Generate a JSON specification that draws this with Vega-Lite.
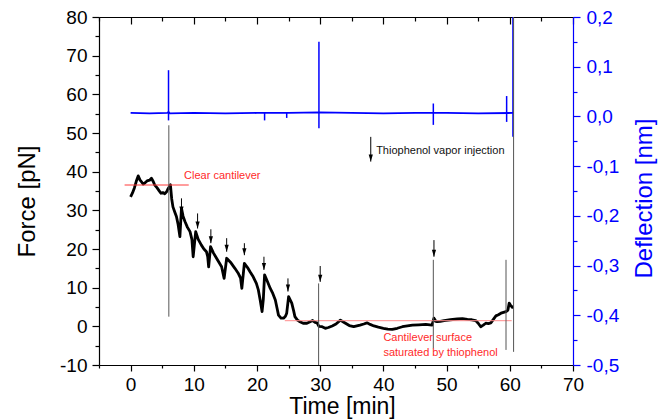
{
  "$schema": "https://vega.github.io/schema/vega-lite/v6.json",
  "width": 474,
  "height": 348,
  "autosize": {"type": "none"},
  "padding": {"left": 99, "top": 17, "right": 85, "bottom": 54},
  "background": "white",
  "config": {
    "view": {"stroke": null},
    "font": "Liberation Sans",
    "axis": {"grid": false, "labelFont": "Liberation Sans", "titleFont": "Liberation Sans", "titleFontWeight": "normal", "labelOverlap": false, "labelBound": false, "labelFlush": false}
  },
  "datasets": {
    "force": [
      {"t": 0.0, "f": 33.5}, {"t": 0.3, "f": 34.5}, {"t": 0.6, "f": 35.8}, {"t": 0.9, "f": 37.5}, {"t": 1.2, "f": 38.9},
      {"t": 1.5, "f": 37.8}, {"t": 1.7, "f": 37.4}, {"t": 2.0, "f": 36.8}, {"t": 2.2, "f": 37.0}, {"t": 2.6, "f": 37.6},
      {"t": 3.0, "f": 37.8}, {"t": 3.3, "f": 38.3}, {"t": 3.6, "f": 37.4}, {"t": 3.8, "f": 36.6}, {"t": 4.2, "f": 35.8},
      {"t": 4.5, "f": 35.1}, {"t": 4.8, "f": 34.4}, {"t": 5.1, "f": 34.6}, {"t": 5.4, "f": 34.3}, {"t": 5.7, "f": 34.8},
      {"t": 5.9, "f": 35.5}, {"t": 6.1, "f": 36.0}, {"t": 6.3, "f": 36.6}, {"t": 6.5, "f": 33.0}, {"t": 6.7, "f": 30.9},
      {"t": 7.0, "f": 29.5}, {"t": 7.25, "f": 28.4}, {"t": 7.5, "f": 26.5}, {"t": 7.8, "f": 23.2}, {"t": 8.05, "f": 30.5},
      {"t": 8.3, "f": 28.5}, {"t": 8.6, "f": 27.1}, {"t": 9.0, "f": 25.6}, {"t": 9.4, "f": 24.5}, {"t": 9.7, "f": 22.5},
      {"t": 9.9, "f": 18.0}, {"t": 10.3, "f": 24.5}, {"t": 10.7, "f": 22.5}, {"t": 11.2, "f": 21.0}, {"t": 11.6, "f": 20.0},
      {"t": 12.0, "f": 19.3}, {"t": 12.2, "f": 18.0}, {"t": 12.35, "f": 15.4}, {"t": 12.65, "f": 20.6}, {"t": 13.1, "f": 19.0},
      {"t": 13.6, "f": 17.6}, {"t": 14.0, "f": 16.5}, {"t": 14.4, "f": 15.4}, {"t": 14.8, "f": 12.4}, {"t": 15.2, "f": 17.6},
      {"t": 15.8, "f": 16.6}, {"t": 16.5, "f": 15.0}, {"t": 17.0, "f": 13.8}, {"t": 17.4, "f": 12.5}, {"t": 17.6, "f": 9.8},
      {"t": 18.0, "f": 16.3}, {"t": 18.5, "f": 15.2}, {"t": 18.9, "f": 14.1}, {"t": 19.4, "f": 12.8}, {"t": 19.9, "f": 11.1},
      {"t": 20.2, "f": 9.5}, {"t": 20.5, "f": 6.8}, {"t": 20.8, "f": 3.8}, {"t": 21.0, "f": 7.0}, {"t": 21.2, "f": 13.3},
      {"t": 21.6, "f": 11.8}, {"t": 22.1, "f": 9.8}, {"t": 22.5, "f": 8.5}, {"t": 22.9, "f": 6.8}, {"t": 23.2, "f": 4.5},
      {"t": 23.4, "f": 2.9}, {"t": 23.8, "f": 2.1}, {"t": 24.2, "f": 2.1}, {"t": 24.5, "f": 2.6}, {"t": 24.7, "f": 3.4},
      {"t": 25.0, "f": 7.7}, {"t": 25.5, "f": 6.0}, {"t": 25.8, "f": 4.0}, {"t": 26.0, "f": 2.5}, {"t": 26.4, "f": 1.6},
      {"t": 26.8, "f": 1.2}, {"t": 27.3, "f": 0.8}, {"t": 27.9, "f": 0.8}, {"t": 28.4, "f": 1.2}, {"t": 28.8, "f": 1.5},
      {"t": 29.2, "f": 1.0}, {"t": 29.5, "f": 0.9}, {"t": 29.8, "f": 0.0}, {"t": 30.3, "f": -0.1}, {"t": 30.8, "f": -0.5},
      {"t": 31.3, "f": -0.3}, {"t": 31.9, "f": 0.1}, {"t": 32.5, "f": 0.6}, {"t": 33.2, "f": 1.6}, {"t": 33.6, "f": 1.2},
      {"t": 34.0, "f": 0.8}, {"t": 34.6, "f": 0.2}, {"t": 35.3, "f": -0.1}, {"t": 35.8, "f": 0.1}, {"t": 36.3, "f": 0.3},
      {"t": 36.9, "f": 0.6}, {"t": 37.4, "f": 0.9}, {"t": 37.9, "f": 0.5}, {"t": 38.5, "f": 0.1}, {"t": 39.2, "f": -0.2},
      {"t": 40.0, "f": -0.5}, {"t": 40.7, "f": -0.7}, {"t": 41.4, "f": -0.8}, {"t": 42.2, "f": -0.5}, {"t": 43.0, "f": -0.1},
      {"t": 43.8, "f": 0.1}, {"t": 44.6, "f": 0.3}, {"t": 45.6, "f": 0.4}, {"t": 46.7, "f": 0.5}, {"t": 47.7, "f": 0.3},
      {"t": 48.0, "f": 2.1}, {"t": 48.3, "f": 1.3}, {"t": 48.5, "f": 1.2}, {"t": 49.0, "f": 1.3}, {"t": 49.6, "f": 1.5},
      {"t": 50.6, "f": 1.7}, {"t": 51.7, "f": 1.9}, {"t": 52.5, "f": 2.0}, {"t": 53.3, "f": 1.8}, {"t": 54.0, "f": 1.7},
      {"t": 54.6, "f": 1.5}, {"t": 55.0, "f": 0.8}, {"t": 55.4, "f": -0.1}, {"t": 55.8, "f": 0.3}, {"t": 56.2, "f": 0.8},
      {"t": 56.6, "f": 0.7}, {"t": 57.0, "f": 0.9}, {"t": 57.4, "f": 1.8}, {"t": 57.8, "f": 2.7}, {"t": 58.2, "f": 3.0},
      {"t": 58.6, "f": 3.4}, {"t": 59.0, "f": 3.6}, {"t": 59.4, "f": 3.8}, {"t": 59.7, "f": 4.2}, {"t": 59.9, "f": 6.0},
      {"t": 60.1, "f": 5.5}, {"t": 60.4, "f": 4.9}, {"t": 60.6, "f": 5.0}
    ],
    "spikesF": [
      {"t": 6.05, "lo": 2.5, "hi": 52},
      {"t": 29.75, "lo": -10, "hi": 11.1},
      {"t": 47.9, "lo": -5.7, "hi": 17.2},
      {"t": 59.4, "lo": -6.1, "hi": 17.2},
      {"t": 60.6, "lo": -6.6, "hi": 80}
    ],
    "arrows": [
      {"t": 8.05, "top": 33.1, "tip": 29.2},
      {"t": 10.6, "top": 29.2, "tip": 25.3},
      {"t": 12.7, "top": 25.1, "tip": 21.5},
      {"t": 15.2, "top": 22.8, "tip": 19.3},
      {"t": 18.0, "top": 21.5, "tip": 18.4},
      {"t": 21.1, "top": 18.0, "tip": 14.6},
      {"t": 24.9, "top": 12.4, "tip": 9.0},
      {"t": 30.0, "top": 15.6, "tip": 11.5},
      {"t": 48.0, "top": 22.3, "tip": 18.0},
      {"t": 38.0, "top": 49.0, "tip": 42.6}
    ],
    "refs": [
      {"name": "clear", "t1": -0.95, "t2": 9.2, "f": 36.55},
      {"name": "saturated", "t1": 24.4, "t2": 60.3, "f": 1.46}
    ],
    "notes": [
      {"t": 38.85, "f": 45.4, "text": "Thiophenol vapor injection", "kind": "legend"},
      {"t": 8.46, "f": 38.96, "text": "Clear cantilever", "kind": "note"},
      {"t": 40.0, "f": -3.1, "text": "Cantilever surface", "kind": "note"},
      {"t": 40.0, "f": -6.8, "text": "saturated  by thiophenol", "kind": "note"}
    ],
    "defl": [
      {"t": 0.0, "d": 0.007}, {"t": 3.0, "d": 0.006}, {"t": 5.8, "d": 0.007}, {"t": 6.0, "d": 0.009}, {"t": 6.2, "d": 0.006},
      {"t": 10.0, "d": 0.007}, {"t": 15.0, "d": 0.006}, {"t": 20.0, "d": 0.007}, {"t": 25.0, "d": 0.007}, {"t": 29.8, "d": 0.008},
      {"t": 35.0, "d": 0.007}, {"t": 40.0, "d": 0.006}, {"t": 45.0, "d": 0.007}, {"t": 50.0, "d": 0.007}, {"t": 55.0, "d": 0.006},
      {"t": 60.5, "d": 0.007}
    ],
    "spikesD": [
      {"t": 6.0, "lo": -0.008, "hi": 0.093},
      {"t": 21.2, "lo": -0.008, "hi": 0.007},
      {"t": 24.7, "lo": -0.003, "hi": 0.007},
      {"t": 29.8, "lo": -0.024, "hi": 0.15},
      {"t": 47.9, "lo": -0.017, "hi": 0.026},
      {"t": 59.5, "lo": -0.011, "hi": 0.041},
      {"t": 60.5, "lo": -0.041, "hi": 0.2}
    ]
  },
  "layer": [
    {
      "data": {"name": "force"},
      "mark": {"type": "line", "color": "black", "strokeWidth": 2.8, "strokeJoin": "round"},
      "encoding": {
        "x": {
          "field": "t", "type": "quantitative",
          "scale": {"domain": [-5, 70], "nice": false, "zero": false},
          "axis": {
            "orient": "bottom", "title": "Time [min]",
            "values": [-5, 0, 5, 10, 15, 20, 25, 30, 35, 40, 45, 50, 55, 60, 65, 70],
            "labelExpr": "datum.value % 10 == 0 ? '' + datum.value : ''",
            "tickSize": {"condition": {"test": "datum.value % 10 != 0", "value": 3}, "value": 6},
            "labelFontSize": 19, "labelPadding": 4, "titleFontSize": 23, "titleBaseline": "alphabetic", "titleY": 48, "titleX": 243,
            "domainColor": "black", "tickColor": "black", "labelColor": "black", "titleColor": "black",
            "domainWidth": 1.2, "tickWidth": 1.2
          }
        },
        "y": {
          "field": "f", "type": "quantitative",
          "scale": {"domain": [-10, 80], "nice": false, "zero": false},
          "axis": {
            "orient": "left", "title": "Force [pN]",
            "values": [-10, -5, 0, 5, 10, 15, 20, 25, 30, 35, 40, 45, 50, 55, 60, 65, 70, 75, 80],
            "labelExpr": "datum.value % 10 == 0 ? '' + datum.value : ''",
            "tickSize": {"condition": {"test": "datum.value % 10 != 0", "value": 4}, "value": 7},
            "labelFontSize": 19, "labelPadding": 5, "titleFontSize": 24, "titlePadding": 20, "titleY": 184,
            "domainColor": "black", "tickColor": "black", "labelColor": "black", "titleColor": "black",
            "domainWidth": 1.2, "tickWidth": 1.2
          }
        }
      }
    },
    {
      "data": {"name": "defl"},
      "mark": {"type": "line", "color": "#0000ff", "strokeWidth": 1.8},
      "encoding": {
        "x": {
          "field": "t", "type": "quantitative",
          "scale": {"domain": [-5, 70], "nice": false, "zero": false},
          "axis": {
            "orient": "top", "title": null, "labels": false,
            "values": [-5, 0, 5, 10, 15, 20, 25, 30, 35, 40, 45, 50, 55, 60, 65, 70],
            "tickSize": {"condition": {"test": "datum.value % 10 != 0", "value": -4}, "value": -7},
            "domainColor": "black", "tickColor": "black", "domainWidth": 1.2, "tickWidth": 1.2
          }
        },
        "y": {
          "field": "d", "type": "quantitative",
          "scale": {"domain": [-0.5, 0.2], "nice": false, "zero": false},
          "axis": {
            "orient": "right", "title": "Deflection [nm]",
            "values": [-0.5, -0.45, -0.4, -0.35, -0.3, -0.25, -0.2, -0.15, -0.1, -0.05, 0, 0.05, 0.1, 0.15, 0.2],
            "labelExpr": "abs(datum.value*10 - round(datum.value*10)) < 0.001 ? replace((datum.value < -0.001 ? '-' : '') + format(abs(datum.value), '.1f'), '.', ',') : ''",
            "tickSize": {"condition": {"test": "abs(datum.value*10 - round(datum.value*10)) > 0.001", "value": 4}, "value": 7},
            "labelFontSize": 19, "labelPadding": 6, "titleFontSize": 24, "titlePadding": 14, "titleY": 181,
            "titleAngle": 270, "titleBaseline": "top",
            "domainColor": "#0000ff", "tickColor": "#0000ff", "labelColor": "#0000ff", "titleColor": "#0000ff",
            "domainWidth": 1.2, "tickWidth": 1.2
          }
        }
      }
    },
    {
      "data": {"name": "spikesD"},
      "mark": {"type": "rule", "strokeWidth": 1.5, "color": "#0000ff"},
      "encoding": {
        "x": {"field": "t", "type": "quantitative", "scale": {"domain": [-5, 70], "nice": false, "zero": false}, "axis": null},
        "y": {"field": "lo", "type": "quantitative", "scale": {"domain": [-0.5, 0.2], "nice": false, "zero": false}, "axis": null},
        "y2": {"field": "hi"}
      }
    },
    {
      "data": {"name": "refs"},
      "mark": {"type": "rule", "strokeWidth": 1},
      "encoding": {
        "x": {"field": "t1", "type": "quantitative", "scale": {"domain": [-5, 70], "nice": false, "zero": false}, "axis": null},
        "x2": {"field": "t2"},
        "y": {"field": "f", "type": "quantitative", "scale": {"domain": [-10, 80], "nice": false, "zero": false}, "axis": null},
        "color": {"condition": {"test": "datum.name == 'clear'", "value": "#ff3b3b"}, "value": "#ff8c8c"}
      }
    },
    {
      "data": {"name": "spikesF"},
      "mark": {"type": "rule", "strokeWidth": 1, "color": "#555555"},
      "encoding": {
        "x": {"field": "t", "type": "quantitative", "scale": {"domain": [-5, 70], "nice": false, "zero": false}, "axis": null},
        "y": {"field": "lo", "type": "quantitative", "scale": {"domain": [-10, 80], "nice": false, "zero": false}, "axis": null},
        "y2": {"field": "hi"}
      }
    },
    {
      "data": {"name": "arrows"},
      "mark": {"type": "rule", "strokeWidth": 1, "color": "black"},
      "encoding": {
        "x": {"field": "t", "type": "quantitative", "scale": {"domain": [-5, 70], "nice": false, "zero": false}, "axis": null},
        "y": {"field": "top", "type": "quantitative", "scale": {"domain": [-10, 80], "nice": false, "zero": false}, "axis": null},
        "y2": {"field": "tip"}
      }
    },
    {
      "data": {"name": "arrows"},
      "mark": {"type": "point", "shape": "M-0.6,-1L0.6,-1L0,1Z", "filled": true, "color": "black", "size": 49, "opacity": 1, "yOffset": -3.5},
      "encoding": {
        "x": {"field": "t", "type": "quantitative", "scale": {"domain": [-5, 70], "nice": false, "zero": false}, "axis": null},
        "y": {"field": "tip", "type": "quantitative", "scale": {"domain": [-10, 80], "nice": false, "zero": false}, "axis": null}
      }
    },
    {
      "data": {"name": "notes"},
      "mark": {"type": "text", "align": "left", "baseline": "middle", "fontSize": 11, "font": "Liberation Sans"},
      "encoding": {
        "x": {"field": "t", "type": "quantitative", "scale": {"domain": [-5, 70], "nice": false, "zero": false}, "axis": null},
        "y": {"field": "f", "type": "quantitative", "scale": {"domain": [-10, 80], "nice": false, "zero": false}, "axis": null},
        "text": {"field": "text"},
        "color": {"condition": {"test": "datum.kind == 'legend'", "value": "#111111"}, "value": "#ff2a2a"}
      }
    }
  ],
  "resolve": {"scale": {"x": "independent", "y": "independent"}}
}
